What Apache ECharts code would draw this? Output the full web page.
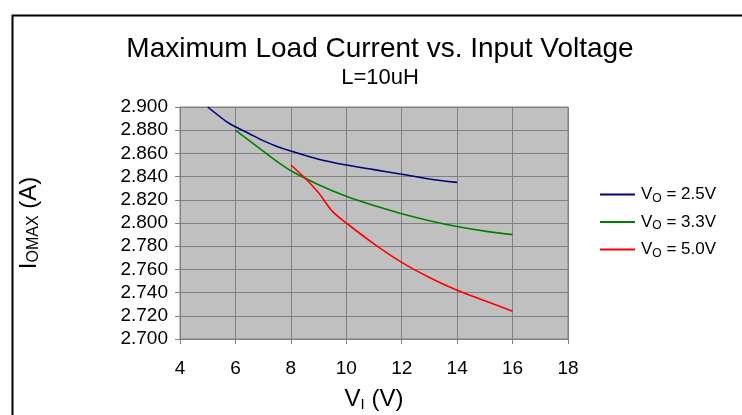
<!doctype html>
<html>
<head>
<meta charset="utf-8">
<script src="https://cdn.jsdelivr.net/npm/echarts@6/dist/echarts.min.js"></script>
<style>
  html, body { margin: 0; padding: 0; background: #fff; }
  #chart { width: 742px; height: 415px; }
</style>
</head>
<body>
<div id="chart"></div>
<script>
// input voltage (V) / max load current (A)
var vin25 = [5, 5.7, 6, 6.5, 7, 7.5, 8, 9, 10, 11, 12, 13, 14];
var iout25 = [2.900, 2.887, 2.883, 2.877, 2.871, 2.866, 2.862, 2.855, 2.850, 2.846, 2.842, 2.838, 2.835];

var vin33 = [6, 6.5, 7, 7.5, 8, 9, 10, 11, 12, 13, 14, 15, 16];
var iout33 = [2.880, 2.871, 2.862, 2.853, 2.845, 2.833, 2.823, 2.815, 2.808, 2.802, 2.797, 2.793, 2.790];

var vin50 = [8, 8.5, 9, 9.5, 10, 11, 12, 13, 14, 15, 16];
var iout50 = [2.850, 2.839, 2.826, 2.810, 2.800, 2.782, 2.766, 2.753, 2.742, 2.733, 2.724];

var seriesNames = ['Vo = 2.5V', 'Vo = 3.3V', 'Vo = 5.0V'];
var legendLabels = ['{v|V}{s|O}{v| = 2.5V}', '{v|V}{s|O}{v| = 3.3V}', '{v|V}{s|O}{v| = 5.0V}'];
var colors = ['#000080', '#008000', '#ff0000'];

function pairs(xs, ys) {
	return xs.map(function(x, i) { return [x, ys[i]]; });
}

var font = 'Liberation Sans, Arial, sans-serif';
var chart = echarts.init(document.getElementById('chart'));

var option = {
	animation: false,
	textStyle: { fontFamily: font },
	title: [{
		text: 'Maximum Load Current vs. Input Voltage',
		left: 375,
		top: 30,
		textAlign: 'center',
		textStyle: { fontSize: 28, fontWeight: 'normal', color: '#000', fontFamily: font }
	}, {
		text: 'L=10uH',
		left: 375,
		top: 62,
		textAlign: 'center',
		textStyle: { fontSize: 22, fontWeight: 'normal', color: '#000', fontFamily: font }
	}],
	graphic: [{
		type: 'rect',
		left: 10,
		top: 13,
		shape: { width: 760, height: 430 },
		style: { fill: 'none', stroke: '#000', lineWidth: 2 }
	}],
	legend: {
		orient: 'vertical',
		left: 595,
		top: 181,
		icon: 'rect',
		itemWidth: 35,
		itemHeight: 2,
		itemGap: 9,
		data: seriesNames,
		formatter: function(name) {
			return legendLabels[seriesNames.indexOf(name)];
		},
		textStyle: {
			color: '#000',
			padding: [0, 0, 0, 1],
			rich: {
				v: { fontSize: 17, color: '#000', fontFamily: font, lineHeight: 20 },
				s: { fontSize: 12, color: '#000', fontFamily: font, verticalAlign: 'bottom', lineHeight: 17 }
			}
		}
	},
	grid: {
		left: 180,
		top: 107,
		right: 174,
		bottom: 76,
		outerBoundsMode: 'none',
		show: true,
		backgroundColor: '#c0c0c0',
		borderColor: '#808080',
		borderWidth: 1
	},
	xAxis: {
		type: 'value',
		min: 4,
		max: 18,
		interval: 2,
		name: '{v|V}{s|I}{v| (V)}',
		nameLocation: 'middle',
		nameGap: 47,
		nameTextStyle: {
			rich: {
				v: { fontSize: 24, color: '#000', fontFamily: font },
				s: { fontSize: 15, color: '#000', fontFamily: font, verticalAlign: 'bottom', lineHeight: 26 }
			}
		},
		axisLine: { lineStyle: { color: '#808080', width: 1 } },
		axisTick: { show: true, length: 5, lineStyle: { color: '#808080' } },
		axisLabel: { fontSize: 19, color: '#000', margin: 20 },
		splitLine: { show: true, lineStyle: { color: '#808080', width: 1 } }
	},
	yAxis: {
		type: 'value',
		min: 2.7,
		max: 2.9,
		interval: 0.02,
		name: '{v|I}{s|OMAX}{v| (A)}',
		nameLocation: 'middle',
		nameGap: 138,
		nameRotate: 90,
		nameTextStyle: {
			rich: {
				v: { fontSize: 24, color: '#000', fontFamily: font },
				s: { fontSize: 16, color: '#000', fontFamily: font, verticalAlign: 'bottom', lineHeight: 26 }
			}
		},
		axisLine: { show: true, lineStyle: { color: '#808080', width: 1 } },
		axisTick: { show: true, length: 5, lineStyle: { color: '#808080' } },
		axisLabel: {
			fontSize: 19,
			color: '#000',
			margin: 12,
			formatter: function(v) { return v.toFixed(3); }
		},
		splitLine: { show: true, lineStyle: { color: '#808080', width: 1 } }
	},
	series: [{
		name: seriesNames[0],
		type: 'line',
		data: pairs(vin25, iout25),
		smooth: 0.3,
		symbol: 'none',
		lineStyle: { color: colors[0], width: 1.6 },
		itemStyle: { color: colors[0] }
	}, {
		name: seriesNames[1],
		type: 'line',
		data: pairs(vin33, iout33),
		smooth: 0.3,
		symbol: 'none',
		lineStyle: { color: colors[1], width: 1.6 },
		itemStyle: { color: colors[1] }
	}, {
		name: seriesNames[2],
		type: 'line',
		data: pairs(vin50, iout50),
		smooth: 0.3,
		symbol: 'none',
		lineStyle: { color: colors[2], width: 1.6 },
		itemStyle: { color: colors[2] }
	}]
};
chart.setOption(option);
</script>
</body>
</html>
